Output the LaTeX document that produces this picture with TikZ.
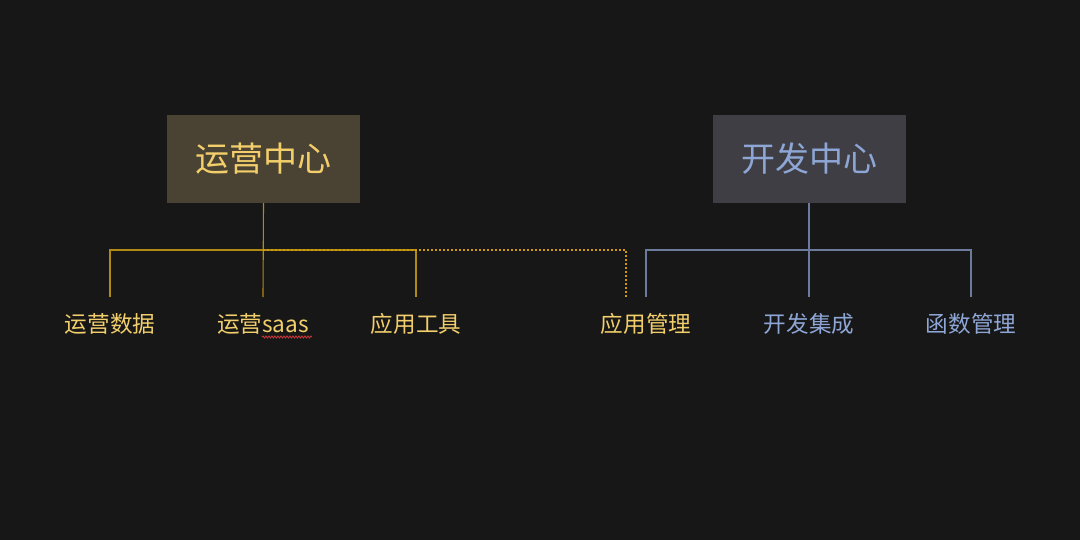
\documentclass[tikz,border=0pt]{standalone}
\usepackage{fontspec}
\setmainfont{Noto Sans CJK SC}
\usetikzlibrary{decorations.pathmorphing}
\definecolor{bg}{HTML}{171717}
\definecolor{ybox}{HTML}{4A4233}
\definecolor{bbox}{HTML}{3F3E44}
\definecolor{ytext}{HTML}{F2CF6B}
\definecolor{btext}{HTML}{8EA6D6}
\definecolor{yline}{HTML}{B08A12}
\definecolor{ydot}{HTML}{D09A0A}
\definecolor{bline}{HTML}{6C7A9C}
\definecolor{squig}{HTML}{D03A3A}
\begin{document}
\begin{tikzpicture}[x=1pt,y=-1pt,
  centerbox/.style={minimum width=193pt,minimum height=88pt,inner sep=0pt,font=\fontsize{34}{40}\selectfont},
  leaf/.style={inner sep=0pt,font=\fontsize{22.6}{26}\selectfont},
  yconn/.style={draw=yline,line width=1.1pt},
  ydotted/.style={draw=ydot,line width=1.1pt,dash pattern=on 2pt off 2pt},
  bconn/.style={draw=bline,line width=1.1pt}]
\fill[bg] (0,0) rectangle (1080,540);
\useasboundingbox (0,0) rectangle (1080,540);
% center boxes
\node[centerbox,fill=ybox,text=ytext] (ops) at (263.5,159) {运营中心};
\node[centerbox,fill=bbox,text=btext] (dev) at (809,159) {开发中心};
% leaf labels
\node[leaf,text=ytext] (l1) at (110,324) {运营数据};
\node[leaf,text=ytext] (l2) at (263,324) {运营saas};
\node[leaf,text=ytext] (l3) at (416,324) {应用工具};
\node[leaf,text=ytext] (l4) at (646,324) {应用管理};
\node[leaf,text=btext] (l5) at (809,324) {开发集成};
\node[leaf,text=btext] (l6) at (971,324) {函数管理};
% coordinates
\coordinate (yb) at (263,250);
\coordinate (y1) at (110,250);
\coordinate (y3) at (416,250);
\coordinate (y4) at (626,250);
\coordinate (y1e) at (110,297);
\coordinate (y2e) at (263,297);
\coordinate (y3e) at (416,297);
\coordinate (y4e) at (626,297);
\coordinate (bb1) at (646,250);
\coordinate (bb6) at (971,250);
\coordinate (b1e) at (646,297);
\coordinate (b5e) at (809,297);
\coordinate (b6e) at (971,297);
% yellow tree
\draw[yconn] (ops.south) -- (y2e);
\draw[yconn] (y1e) -- (y1) -- (y3) -- (y3e);
\draw[ydotted] (yb) -- (y4) -- (y4e);
% blue tree
\draw[bconn] (dev.south) -- (b5e);
\draw[bconn] (b1e) -- (bb1) -- (bb6) -- (b6e);
% spell-check squiggle
\coordinate (sq1) at (262,337);
\coordinate (sq2) at (312,337);
\draw[squig,line width=0.8pt,decorate,decoration={snake,amplitude=1pt,segment length=3pt}] (sq1) -- (sq2);
\end{tikzpicture}
\end{document}
